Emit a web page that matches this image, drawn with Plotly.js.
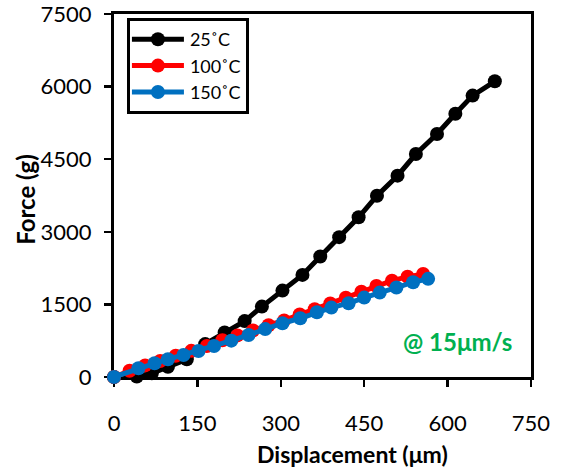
<!DOCTYPE html>
<html>
<head>
<meta charset="utf-8">
<script src="https://cdn.plot.ly/plotly-3.0.1.min.js"></script>
<style>html,body{margin:0;padding:0;background:#fff;}#chart{width:562px;height:471px;}</style>
</head>
<body>
<div id="chart"></div>
<script>
// Data
const seriesNames = ['25˚C', '100˚C', '150˚C'];
const seriesColors = ['#000000', '#FF0000', '#0070C0'];

const x25 = [0, 41, 68, 97, 131, 164, 199, 235, 266, 303, 339, 371, 405, 440, 473, 510, 543, 581, 614, 645, 685];
const y25 = [0, 10, 76, 210, 366, 680, 920, 1155, 1455, 1785, 2110, 2490, 2890, 3300, 3745, 4160, 4607, 5020, 5440, 5814, 6110];

const x100 = [0, 28, 56, 83, 111, 139, 167, 195, 222, 250, 278, 306, 334, 361, 389, 417, 445, 472, 500, 528, 556];
const y100 = [0, 130, 240, 330, 440, 540, 640, 760, 860, 960, 1070, 1170, 1290, 1400, 1520, 1640, 1760, 1880, 1990, 2070, 2130];

const x150 = [0, 44, 73, 97, 125, 152, 180, 211, 242, 272, 303, 335, 365, 391, 422, 450, 478, 508, 538, 565];
const y150 = [0, 180, 283, 366, 455, 538, 641, 751, 869, 990, 1111, 1214, 1339, 1434, 1525, 1641, 1744, 1848, 1959, 2028];

const xTicks = [0, 150, 300, 450, 600, 750];
const yTicks = [0, 1500, 3000, 4500, 6000, 7500];
const xTitle = 'Displacement (μm)';
const yTitle = 'Force (g)';
const noteText = '@ 15μm/s';
const notePos = [618, 724];

const FONT = 'Lato, "Open Sans", sans-serif';

const xs = [x25, x100, x150];
const ys = [y25, y100, y150];
const traces = xs.map((x, i) => ({
  x: x, y: ys[i], name: seriesNames[i], type: 'scatter', mode: 'lines+markers',
  line: {color: seriesColors[i], width: 5},
  marker: {color: seriesColors[i], size: 14},
  cliponaxis: false
}));

const axisCommon = {
  showgrid: false, zeroline: false, showline: true, linecolor: '#000', linewidth: 3,
  ticks: 'outside', ticklen: 7, tickwidth: 2.5, tickcolor: '#000',
  mirror: true, layer: 'below traces', ticklabeloverflow: 'allow',
  tickfont: {family: FONT, size: 22, color: '#000'}
};

const layout = {
  width: 562, height: 471,
  margin: {l: 114, r: 31, t: 14, b: 94},
  paper_bgcolor: '#fff', plot_bgcolor: '#fff',
  showlegend: true,
  legend: {
    x: 0.031, y: 0.989, xanchor: 'left', yanchor: 'top',
    bgcolor: '#fff', bordercolor: '#000', borderwidth: 3,
    font: {family: FONT, size: 18, color: '#000'},
    tracegroupgap: 0, itemwidth: 50
  },
  xaxis: Object.assign({}, axisCommon, {
    range: [0, 750.05], tickvals: xTicks, ticktext: xTicks.map(String), ticklabelstandoff: 18
  }),
  yaxis: Object.assign({}, axisCommon, {
    range: [0, 7500.5], tickvals: yTicks, ticktext: yTicks.map(String), ticklabelstandoff: 8
  }),
  xaxis2: {
    overlaying: 'x', anchor: 'y', range: [0, 750.05], tickvals: xTicks,
    showticklabels: false, ticks: 'inside', ticklen: 7, tickwidth: 2.5, tickcolor: '#000',
    showgrid: false, zeroline: false, showline: false, layer: 'below traces'
  },
  yaxis2: {
    overlaying: 'y', anchor: 'x', range: [0, 7500.5], tickvals: yTicks,
    showticklabels: false, ticks: 'inside', ticklen: 7, tickwidth: 2.5, tickcolor: '#000',
    showgrid: false, zeroline: false, showline: false, layer: 'below traces'
  },
  annotations: [
    {x: notePos[0], y: notePos[1], xref: 'x', yref: 'y', text: '<b>' + noteText + '</b>',
     showarrow: false, font: {family: FONT, size: 24, color: '#00B050'}},
    {x: 0.573, y: -0.213, xref: 'paper', yref: 'paper', xanchor: 'center', yanchor: 'middle',
     text: '<b>' + xTitle + '</b>', showarrow: false, font: {family: FONT, size: 23, color: '#000'}},
    {x: -0.211, y: 0.488, xref: 'paper', yref: 'paper', xanchor: 'center', yanchor: 'middle',
     textangle: -90, text: '<b>' + yTitle + '</b>', showarrow: false, font: {family: FONT, size: 24, color: '#000'}}
  ]
};

Plotly.newPlot('chart', traces, layout, {displayModeBar: false, staticPlot: true}).then(gd => {
  // stretch legend symbols to span the symbol area, with the marker in the middle
  gd.querySelectorAll('.legend .traces').forEach(tr => {
    const txt = tr.querySelector('text.legendtext');
    const tx = txt ? parseFloat(txt.getAttribute('x')) : 40;
    const end = tx - 6;
    const start = 2;
    tr.querySelectorAll('.legendlines path').forEach(p => p.setAttribute('d', 'M' + start + ',0H' + end));
    tr.querySelectorAll('.legendpoints path').forEach(p => p.setAttribute('transform', 'translate(' + ((start + end) / 2) + ',0)'));
  });
});
</script>
</body>
</html>
